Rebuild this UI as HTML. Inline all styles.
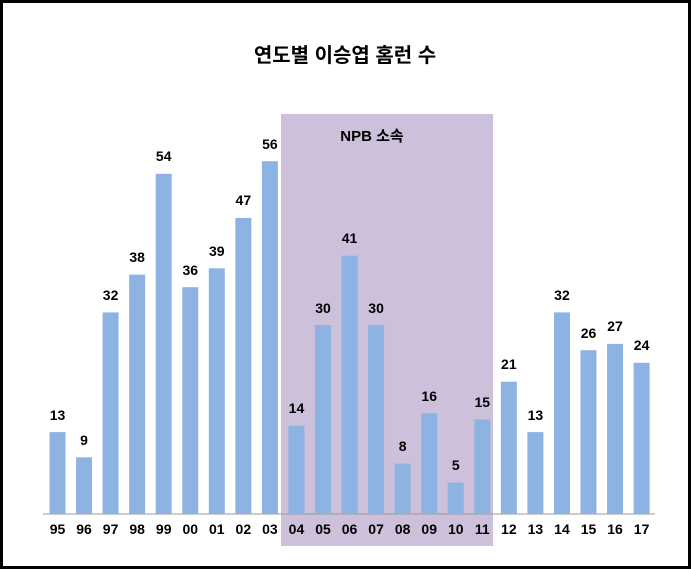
<!DOCTYPE html>
<html><head><meta charset="utf-8"><style>
html,body{margin:0;padding:0;background:#fff}
svg{display:block}
text{font-family:"Liberation Sans","Noto Sans CJK KR",sans-serif;font-weight:bold;fill:#000}
</style></head><body>
<svg width="691" height="570" viewBox="0 0 691 570" xmlns="http://www.w3.org/2000/svg">
<rect x="0" y="0" width="691" height="570" fill="#fff"/>
<rect x="281" y="114" width="212" height="432" fill="#ccc0da"/>
<text x="345" y="62" font-size="20" text-anchor="middle">연도별 이승엽 홈런 수</text>
<text x="372" y="141" font-size="15" text-anchor="middle">NPB 소속</text>
<line x1="43" y1="514" x2="655" y2="514" stroke="#999" stroke-width="1"/>
<g fill="#8db3e2">
<rect x="49.5" y="432.1" width="16" height="81.9"/>
<rect x="76.05" y="457.3" width="16" height="56.7"/>
<rect x="102.6" y="312.4" width="16" height="201.6"/>
<rect x="129.15" y="274.6" width="16" height="239.4"/>
<rect x="155.7" y="173.8" width="16" height="340.2"/>
<rect x="182.25" y="287.2" width="16" height="226.8"/>
<rect x="208.8" y="268.3" width="16" height="245.7"/>
<rect x="235.35" y="217.9" width="16" height="296.1"/>
<rect x="261.9" y="161.2" width="16" height="352.8"/>
<rect x="288.45" y="425.8" width="16" height="88.2"/>
<rect x="315" y="325" width="16" height="189"/>
<rect x="341.55" y="255.7" width="16" height="258.3"/>
<rect x="368.1" y="325" width="16" height="189"/>
<rect x="394.65" y="463.6" width="16" height="50.4"/>
<rect x="421.2" y="413.2" width="16" height="100.8"/>
<rect x="447.75" y="482.5" width="16" height="31.5"/>
<rect x="474.3" y="419.5" width="16" height="94.5"/>
<rect x="500.85" y="381.7" width="16" height="132.3"/>
<rect x="527.4" y="432.1" width="16" height="81.9"/>
<rect x="553.95" y="312.4" width="16" height="201.6"/>
<rect x="580.5" y="350.2" width="16" height="163.8"/>
<rect x="607.05" y="343.9" width="16" height="170.1"/>
<rect x="633.6" y="362.8" width="16" height="151.2"/>
</g>
<g font-size="14" text-anchor="middle">
<text x="57.5" y="420">13</text>
<text x="84.05" y="445">9</text>
<text x="110.6" y="300">32</text>
<text x="137.15" y="262">38</text>
<text x="163.7" y="161">54</text>
<text x="190.25" y="275">36</text>
<text x="216.8" y="256">39</text>
<text x="243.35" y="205">47</text>
<text x="269.9" y="149">56</text>
<text x="296.45" y="413">14</text>
<text x="323" y="313">30</text>
<text x="349.55" y="243">41</text>
<text x="376.1" y="313">30</text>
<text x="402.65" y="451">8</text>
<text x="429.2" y="401">16</text>
<text x="455.75" y="470">5</text>
<text x="482.3" y="407">15</text>
<text x="508.85" y="369">21</text>
<text x="535.4" y="420">13</text>
<text x="561.95" y="300">32</text>
<text x="588.5" y="338">26</text>
<text x="615.05" y="331">27</text>
<text x="641.6" y="350">24</text>
</g>
<g font-size="14" text-anchor="middle">
<text x="57.5" y="534">95</text>
<text x="84.05" y="534">96</text>
<text x="110.6" y="534">97</text>
<text x="137.15" y="534">98</text>
<text x="163.7" y="534">99</text>
<text x="190.25" y="534">00</text>
<text x="216.8" y="534">01</text>
<text x="243.35" y="534">02</text>
<text x="269.9" y="534">03</text>
<text x="296.45" y="534">04</text>
<text x="323" y="534">05</text>
<text x="349.55" y="534">06</text>
<text x="376.1" y="534">07</text>
<text x="402.65" y="534">08</text>
<text x="429.2" y="534">09</text>
<text x="455.75" y="534">10</text>
<text x="482.3" y="534">11</text>
<text x="508.85" y="534">12</text>
<text x="535.4" y="534">13</text>
<text x="561.95" y="534">14</text>
<text x="588.5" y="534">15</text>
<text x="615.05" y="534">16</text>
<text x="641.6" y="534">17</text>
</g>
<rect x="1.5" y="1.5" width="688" height="566" fill="none" stroke="#000" stroke-width="3"/>
</svg>
</body></html>
